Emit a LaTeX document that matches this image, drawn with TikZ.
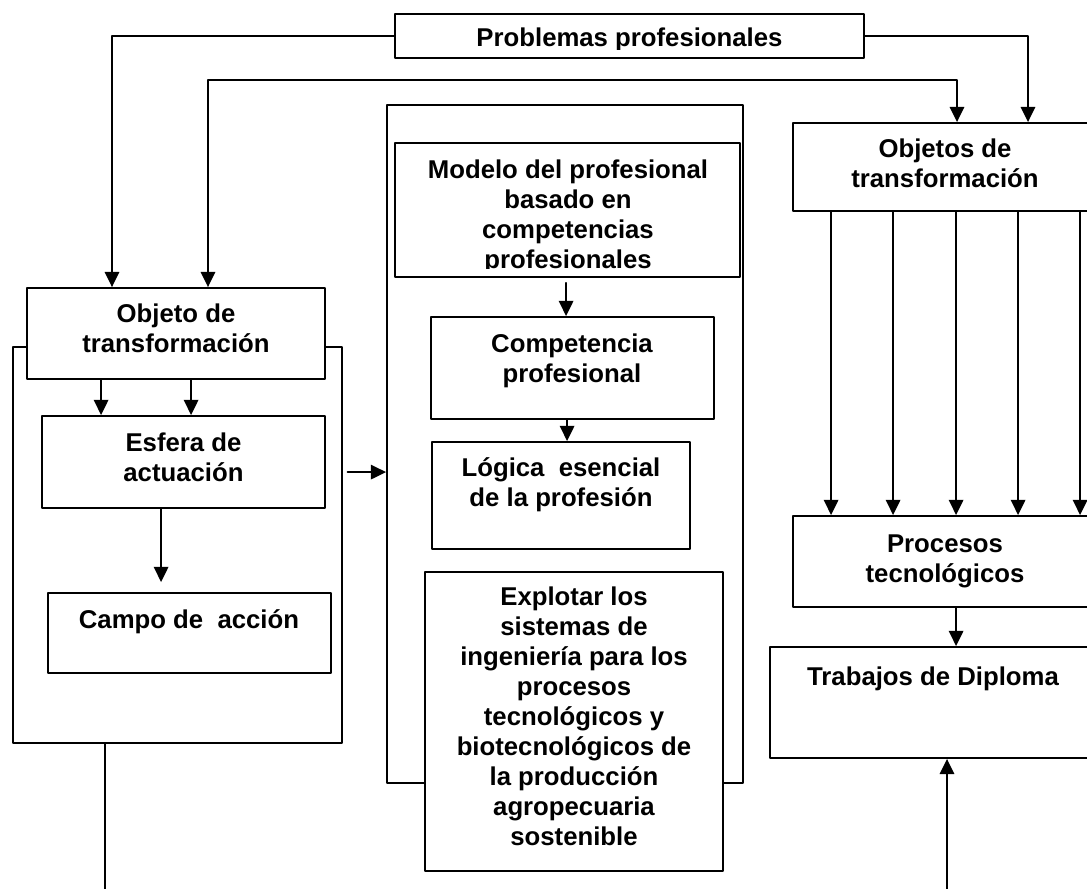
\documentclass[tikz,border=0pt]{standalone}
\usepackage{fontspec}
\setmainfont{Liberation Sans}
\usetikzlibrary{calc,fit,arrows.meta}

\begin{document}
\begin{tikzpicture}[x=0.025cm, y=-0.025cm, line join=round, line cap=round, line width=1.3pt, >={Triangle[length=0.38cm,width=0.36cm]},
	caja/.style={draw, fill=white, inner sep=0pt},
	marco/.style={draw, inner sep=0pt},
	texto/.style={font=\fontsize{18.3}{21.3}\selectfont\bfseries, align=center, inner sep=0pt, anchor=base}]

			\clip (0,0) rectangle (1087,889);

			\node[marco, fit={(12.7,347) (341.7,743)}] (contIzq) {};

			\node[marco, fit={(387,105) (743,783)}] (contMed) {};

			\node[caja, fit={(395,14) (864,58)}] (prob) {};

			\node[caja, fit={(27,288) (325,379)}] (objIzq) {};

			\node[caja, fit={(42,416) (325,508)}] (esfera) {};

			\node[caja, fit={(48,593) (331,673)}] (campo) {};

			\node[caja, fit={(395,143) (740,277)}] (modelo) {};

			\node[caja, fit={(431,317) (714,419)}] (comp) {};

			\node[caja, fit={(432,442) (690,549)}] (logica) {};

			\node[caja, fit={(425,572) (723,871)}] (explotar) {};

			\node[caja, fit={(793,123) (1097,211)}] (objDer) {};

			\node[caja, fit={(793,516) (1097,607)}] (proc) {};

			\node[caja, fit={(770,647) (1096,758)}] (trab) {};

			\begin{scope}
				\clip (395,14) rectangle (864,49);
				\node[texto] (tProb) at (629.5,46) {Problemas profesionales};
			\end{scope}

			\begin{scope}
				\clip (395,143) rectangle (740,268);
				\node[texto] (tModelo) at (568,268) {Modelo del profesional\\basado en\\competencias\\profesionales};
			\end{scope}

			\node[texto] (tObjIzq) at (176,352) {Objeto de\\transformación};

			\node[texto] (tEsfera) at (183.5,481) {Esfera de\\actuación};

			\node[texto] (tCampo) at (189,628) {Campo de\ \ acción};

			\node[texto] (tComp) at (572,382) {Competencia\\profesional};

			\node[texto] (tLogica) at (561,506) {Lógica\ \ esencial\\de la profesión};

			\node[texto] (tExpl) at (574,845) {Explotar los\\sistemas de\\ingeniería para los\\procesos\\tecnológicos y\\biotecnológicos de\\la producción\\agropecuaria\\sostenible};

			\node[texto] (tObjDer) at (945,187) {Objetos de\\transformación};

			\node[texto] (tProc) at (945,582) {Procesos\\tecnológicos};

			\node[texto] (tTrab) at (933,685) {Trabajos de Diploma};

			\coordinate (q1) at (112,36);

			\coordinate (q2) at (1028,36);

			\coordinate (r1) at (208,80);

			\coordinate (r2) at (957,80);

			\coordinate (b1) at (105,889);

			\coordinate (b2) at (947,889);

			\draw[->] (prob.west) -- (q1) -- (q1 |- objIzq.north);

			\draw[->] (prob.east) -- (q2) -- (q2 |- objDer.north);

			\draw[<->] (r1 |- objIzq.north) -- (r1) -- (r2) -- (r2 |- objDer.north);

			\foreach \d in {39,101,164,226,288}
				\draw[->] ($(objDer.south west)+(\d,0)$) -- ($(proc.north west)+(\d,0)$);

			\foreach \d in {75,165}
				\draw[->] ($(objIzq.south west)+(\d,0)$) coordinate (s) -- (s |- esfera.north);

			\draw[->, shorten >=0.25cm] ($(esfera.south west)+(120,0)$) coordinate (s) -- (s |- campo.north);

			\draw[->] ($(contIzq.north east)+(5,126)$) coordinate (s) -- (s -| contMed.west);

			\draw[->] ($(modelo.south west)+(172,5)$) coordinate (s) -- (s |- comp.north);

			\draw[->] ($(comp.south west)+(137,0)$) coordinate (s) -- (s |- logica.north);

			\draw[->] ($(proc.south west)+(164,0)$) coordinate (s) -- (s |- trab.north);

			\draw (b1 |- contIzq.south) -- (b1);

			\draw[->] (b2) -- (b2 |- trab.south);

	\end{tikzpicture}
\end{document}
